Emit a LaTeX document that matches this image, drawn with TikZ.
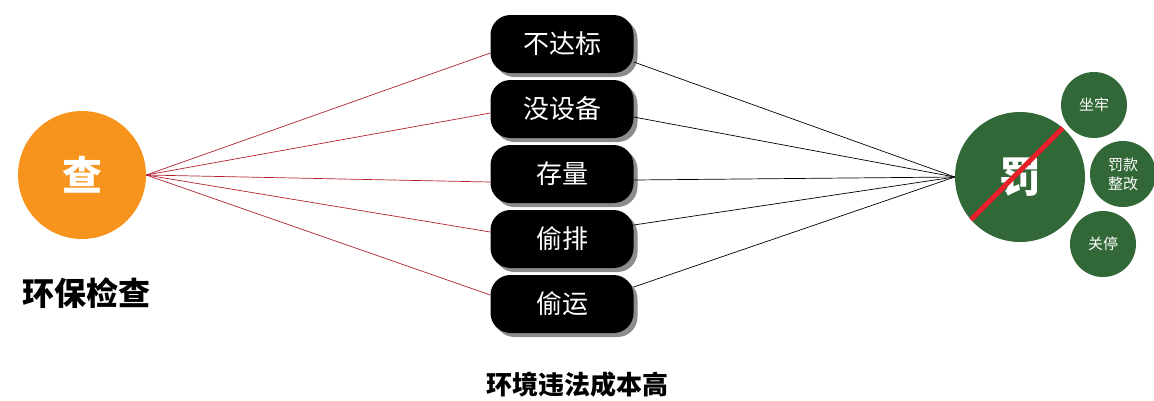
\documentclass[tikz,border=0pt]{standalone}
\usepackage{fontspec}
\setmainfont{Noto Sans CJK SC}
\usepackage{tikz}
\usetikzlibrary{shadows}
\definecolor{chaorange}{HTML}{F7941D}
\definecolor{fagreen}{HTML}{326837}
\definecolor{linered}{HTML}{B3202E}
\definecolor{slashred}{HTML}{E8202A}

\begin{document}
\begin{tikzpicture}[x=1pt,y=-1pt]
\tikzstyle{every node}+=[inner sep=0pt]
\tikzstyle{fault}=[fill=black,rounded corners=20pt,minimum width=143pt,minimum height=58pt,text=white,font=\fontsize{26}{26}\selectfont,drop shadow={shadow xshift=4pt,shadow yshift=-4pt,opacity=0.45,fill=black}]
\tikzstyle{penalty}=[circle,fill=fagreen,minimum size=66pt,text=white,font=\fontsize{15}{19}\selectfont,align=center]
\useasboundingbox (0,0) rectangle (1154,400);
\node [circle,fill=chaorange,minimum size=128pt,text=white,font=\fontsize{40}{40}\selectfont\bfseries] (cha) at (82,175) {查};
\node [font=\fontsize{32}{32}\selectfont\bfseries] (chalabel) at (87,293) {环保检查};
\node [fault] (b1) at (562,44) {不达标};
\node [fault] (b2) at (562,109) {没设备};
\node [fault] (b3) at (562,174) {存量};
\node [fault] (b4) at (562,239) {偷排};
\node [fault] (b5) at (562,304) {偷运};
\node [font=\fontsize{26}{26}\selectfont\bfseries] (cost) at (577,385) {环境违法成本高};
\node [circle,fill=fagreen,minimum size=130pt,text=white,font=\fontsize{42}{42}\selectfont\bfseries] (fa) at (1020,177) {罚};
\draw [slashred,line width=5pt] (fa.221) -- (fa.49);
\node [penalty] (p1) at (1094,105) {坐牢};
\node [penalty] (p2) at (1123,174) {罚款\\整改};
\node [penalty] (p3) at (1103,244) {关停};
\draw [linered,line width=0.7pt] (cha.east) -- ([yshift=-9pt]b1.west);
\draw [linered,line width=0.7pt] (cha.east) -- ([yshift=-4pt]b2.west);
\draw [linered,line width=0.7pt] (cha.east) -- ([yshift=-8pt]b3.west);
\draw [linered,line width=0.7pt] (cha.east) -- ([yshift=7pt]b4.west);
\draw [linered,line width=0.7pt] (cha.east) -- ([yshift=9pt]b5.west);
\draw [black,line width=0.7pt] ([yshift=-18pt]b1.east) -- (fa.west);
\draw [black,line width=0.7pt] ([yshift=-8pt]b2.east) -- (fa.west);
\draw [black,line width=0.7pt] ([yshift=-6pt]b3.east) -- (fa.west);
\draw [black,line width=0.7pt] ([yshift=14pt]b4.east) -- (fa.west);
\draw [black,line width=0.7pt] ([yshift=17pt]b5.east) -- (fa.west);
\end{tikzpicture}
\end{document}
